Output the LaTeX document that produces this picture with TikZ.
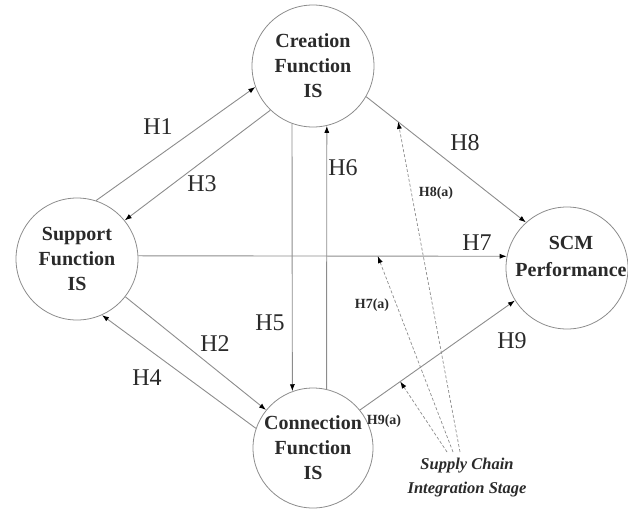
\documentclass[tikz,border=0pt]{standalone}
\usepackage{fontspec}
\setmainfont{Liberation Serif}
\usetikzlibrary{arrows.meta}
\definecolor{linegray}{HTML}{8C8C8C}
\definecolor{txt}{HTML}{2A2A2A}
\tikzset{
  proc/.style={circle, draw=linegray, line width=0.8pt, minimum size=122pt,
    inner sep=0pt, align=center, text=txt,
    font=\bfseries\fontsize{20}{25}\selectfont},
  link/.style={draw=linegray, line width=0.9pt,
    -{Latex[length=7pt,width=5pt,color=black]}},
  moder/.style={draw=linegray, line width=0.7pt, dash pattern=on 3pt off 2pt,
    -{Latex[length=7pt,width=5pt,color=black]}},
  hlab/.style={text=txt, font=\fontsize{24}{24}\selectfont},
  alab/.style={text=txt, font=\bfseries\fontsize{14}{14}\selectfont},
  stage/.style={text=txt, align=center, font=\bfseries\itshape\fontsize{16.5}{24}\selectfont},
}
\begin{document}
\begin{tikzpicture}[x=1pt, y=-1pt]
  \useasboundingbox (0,0) rectangle (628,509);

  % the four constructs
  \node[proc] (cre) at (313,66) {Creation\\Function\\IS};
  \node[proc] (sup) at (77,259) {Support\\Function\\IS};
  \node[proc, minimum size=120pt] (con) at (313,448) {Connection\\Function\\IS};
  \node[proc, minimum size=122pt] (scm) at (567,268) {};
  \node[text=txt, align=center, font=\bfseries\fontsize{20}{27}\selectfont]
    (scmtxt) at (571,256) {SCM\\Performance};

  % hypothesised paths
  \draw[link] (sup.72)  -- (cre.200);
  \draw[link] (cre.226) -- (sup.39);
  \draw[link] (sup.-38) -- (con.141);
  \draw[link] (con.161) -- (sup.-66);
  \draw[link] (cre.250) -- (con.110);
  \draw[link] (con.77)  -- (cre.283);
  \draw[link] (sup.3)   -- coordinate[pos=0.65] (p7) (scm.169);
  \draw[link] (cre.330) -- coordinate[pos=0.2] (p8) (scm.132);
  \draw[link] (con.39)  -- coordinate[pos=0.26] (p9) (scm.212);

  % moderating effect of the integration stage
  \node[stage] (stg) at (467,478) {Supply Chain\\Integration Stage};
  \coordinate (s9) at (447,452);
  \coordinate (s7) at (453,452);
  \coordinate (s8) at (460,452);
  \draw[moder] (s8) -- (p8);
  \draw[moder] (s7) -- (p7);
  \draw[moder] (s9) -- (p9);

  % path labels
  \node[hlab] (l1) at (158,127) {H1};
  \node[hlab] (l3) at (202,184) {H3};
  \node[hlab] (l2) at (215,344) {H2};
  \node[hlab] (l4) at (147,378) {H4};
  \node[hlab] (l5) at (270,323) {H5};
  \node[hlab] (l6) at (343,168) {H6};
  \node[hlab] (l7) at (477,243) {H7};
  \node[hlab] (l8) at (465,143) {H8};
  \node[hlab] (l9) at (512,341) {H9};
  \node[alab] (l8a) at (436,193) {H8(a)};
  \node[alab] (l7a) at (372,305) {H7(a)};
  \node[alab] (l9a) at (384,421) {H9(a)};
\end{tikzpicture}
\end{document}
